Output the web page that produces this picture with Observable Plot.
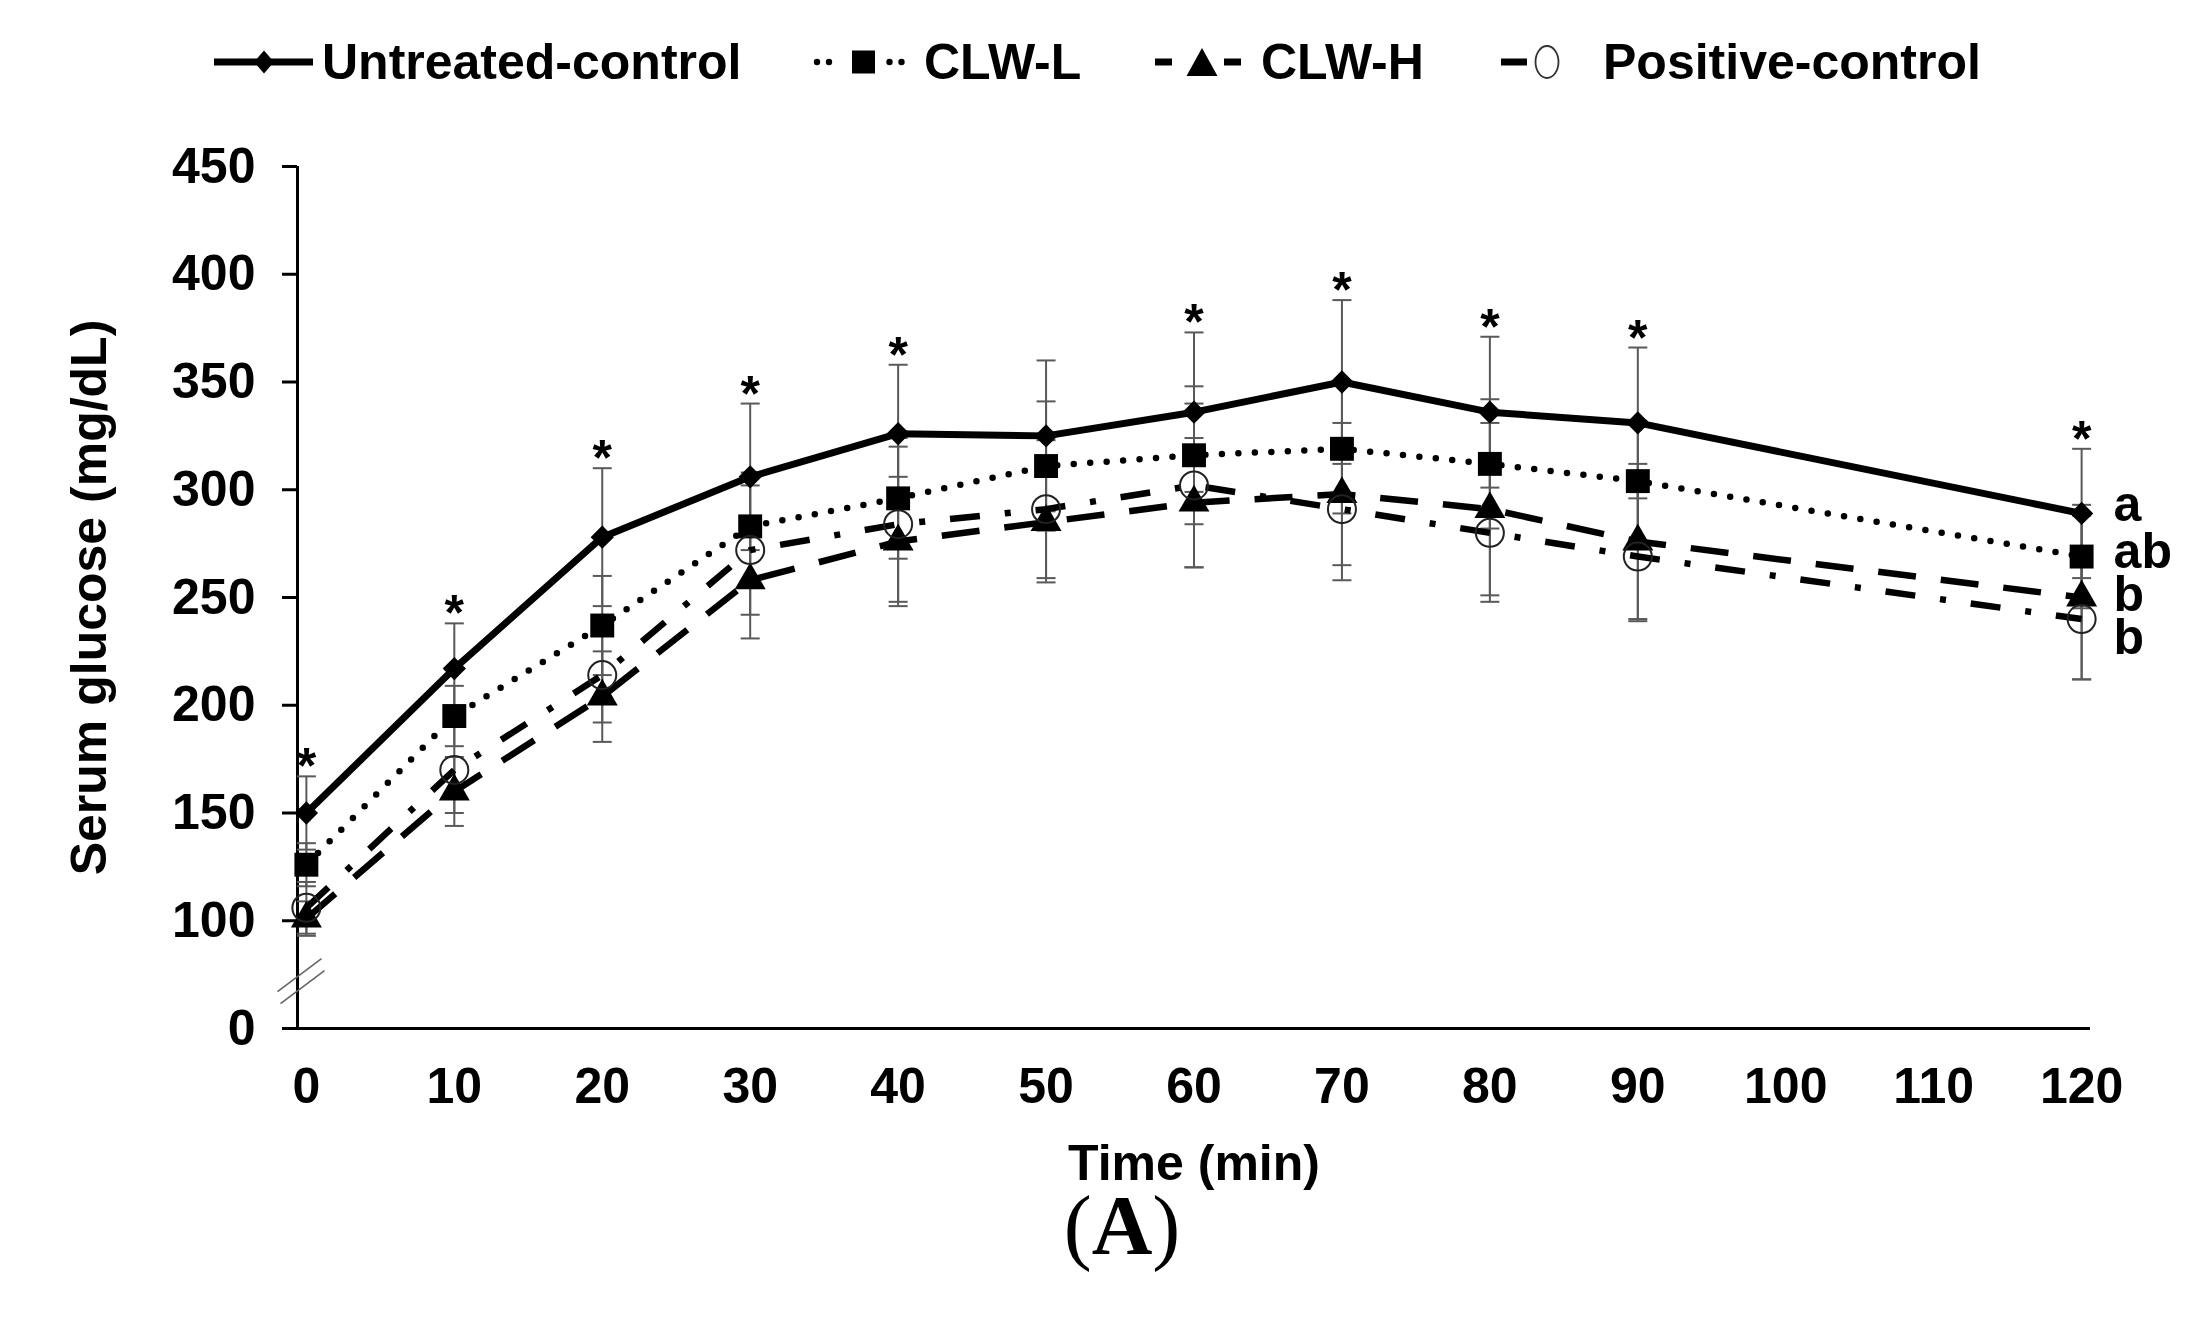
<!DOCTYPE html>
<html>
<head>
<meta charset="utf-8">
<script src="https://cdn.jsdelivr.net/npm/d3@7"></script>
<script src="https://cdn.jsdelivr.net/npm/@observablehq/plot@0.6"></script>
<style>
  html, body { margin: 0; padding: 0; background: #fff; }
  body { width: 2208px; height: 1344px; overflow: hidden; font-family: "Liberation Sans", Arial, sans-serif; color: #000; }
  #legend { position: relative; height: 124px; }
  .sample { position: absolute; top: 42px; overflow: visible; }
  .ltext { position: absolute; top: 37px; font-size: 50px; font-weight: bold; line-height: 50px; white-space: nowrap; }
  #chart svg { display: block; }
  #caption { height: 100px; line-height: 44px; text-align: center; padding-left: 36px;
             font-family: "Liberation Serif", "Times New Roman", serif; font-size: 84px; }
</style>
</head>
<body>
<div id="legend"></div>
<div id="chart"></div>
<div id="caption">(<b>A</b>)</div>
<script>
// ---------------- data ----------------
const times = [0, 10, 20, 30, 40, 50, 60, 70, 80, 90, 120];
const seriesNames = ["Untreated-control", "CLW-L", "CLW-H", "Positive-control"];

const untreated   = [150, 217, 278, 306, 326, 325, 336, 350, 336, 331, 289];
const untreatedSD = [17, 21, 32, 34, 32, 35, 37, 38, 35, 35, 30];
const clwL        = [126, 195, 237, 283, 296, 311, 316, 319, 312, 304, 269];
const clwLSD      = [10, 14, 23, 25, 28, 30, 32, 30, 30, 28, 24];
const clwH        = [101, 160, 204, 258, 276, 285, 294, 298, 291, 276, 250];
const clwHSD      = [8, 16, 21, 27, 30, 28, 30, 33, 40, 36, 38];
const positive    = [106, 170, 214, 272, 284, 291, 302, 291, 280, 269, 240];
const positiveSD  = [12, 20, 22, 30, 36, 32, 38, 33, 32, 30, 28];

const xTicks = [0, 10, 20, 30, 40, 50, 60, 70, 80, 90, 100, 110, 120];
// broken y axis: the "0" label sits one tick step below 100
const yTickLabels = ["0", "100", "150", "200", "250", "300", "350", "400", "450"];
const yTickValues = [50, 100, 150, 200, 250, 300, 350, 400, 450];
const asteriskTimes = [0, 10, 20, 30, 40, 60, 70, 80, 90, 120];
const sigLetters = ["a", "ab", "b", "b"];

// ---------------- styles ----------------
const styles = [
  {symbol: "diamond2", r: 10.5, fill: "black", stroke: "none", sw: 0, dash: null, cap: "round", width: 7},
  {symbol: "square", r: 13.5, fill: "black", stroke: "none", sw: 0, dash: "0 16.5", cap: "round", width: 6.5},
  {symbol: "triangle", r: 11.5, fill: "black", stroke: "none", sw: 0, dash: "38 25", cap: "butt", width: 6.5},
  {symbol: "circle", r: 14, fill: "none", stroke: "#222", sw: 2, dash: "30 25 6 25", cap: "butt", width: 6.5}
];
const letterDy = [-8, -5, -3, 19];

const seriesValues = [untreated, clwL, clwH, positive];
const seriesSD = [untreatedSD, clwLSD, clwHSD, positiveSD];
const rowsBy = seriesNames.map((name, k) =>
  times.map((t, i) => ({series: name, t, v: seriesValues[k][i], sd: seriesSD[k][i]})));

// ---------------- legend ----------------
const legend = document.getElementById("legend");
const sampleX = [214, 814, 1152, 1501];
const textX = [322, 924, 1261, 1603];
const ns = "http://www.w3.org/2000/svg";
const sampleSvgs = [
  `<line x1="0" y1="20" x2="99" y2="20" stroke="#000" stroke-width="7"/>
   <polygon points="50,8.5 60,20 50,31.5 40,20" fill="#000"/>`,
  `<circle cx="3" cy="20" r="3.2" fill="#000"/><circle cx="15" cy="20" r="3.2" fill="#000"/>
   <circle cx="75.5" cy="20" r="3.2" fill="#000"/><circle cx="87.5" cy="20" r="3.2" fill="#000"/>
   <rect x="38" y="8.5" width="23" height="23" fill="#000"/>`,
  `<line x1="3" y1="20" x2="20" y2="20" stroke="#000" stroke-width="7"/>
   <line x1="72" y1="20" x2="89" y2="20" stroke="#000" stroke-width="7"/>
   <polygon points="50,6 65.5,34 34.5,34" fill="#000"/>`,
  `<line x1="0" y1="20" x2="26" y2="20" stroke="#000" stroke-width="7"/>
   <ellipse cx="46" cy="20" rx="11.5" ry="16" fill="none" stroke="#333" stroke-width="1.8"/>`
];
seriesNames.forEach((name, k) => {
  const s = document.createElementNS(ns, "svg");
  s.setAttribute("class", "sample");
  s.setAttribute("width", 100); s.setAttribute("height", 40);
  s.style.left = sampleX[k] + "px";
  s.innerHTML = sampleSvgs[k];
  legend.appendChild(s);
  const t = document.createElement("div");
  t.className = "ltext";
  t.style.left = textX[k] + "px";
  t.textContent = name;
  legend.appendChild(t);
});

// ---------------- chart ----------------
const W = 2208, H = 1080;
const xDomain = [-0.6, 120.6];
const yDomain = [yTickValues[0], yTickValues[yTickValues.length - 1]];

const capSymbol = {
  draw(ctx, size) {
    const r = Math.sqrt(size / Math.PI);
    ctx.moveTo(-r, 0); ctx.lineTo(r, 0);
  }
};

const axisBreak = (index, scales, values, dims) => {
  const g = d3.create("svg:g").attr("stroke", "#666").attr("stroke-width", 1.6);
  const cx = dims.marginLeft;
  const cy = (scales.y(yTickValues[0]) + scales.y(yTickValues[1])) / 2 + 7;
  [[2.5, -6], [5.5, 6]].forEach(([ox, oy]) => {
    g.append("line")
      .attr("x1", cx + ox - 22).attr("y1", cy + oy + 16.5)
      .attr("x2", cx + ox + 22).attr("y2", cy + oy - 16.5);
  });
  return g.node();
};

const marks = [
  Plot.ruleY([yDomain[0]], {stroke: "#000", strokeWidth: 3}),
  Plot.ruleX([xDomain[0]], {y1: yDomain[0], y2: yDomain[1], stroke: "#000", strokeWidth: 3}),
  Plot.axisY({ticks: yTickValues, tickFormat: d => yTickLabels[yTickValues.indexOf(d)],
              tickSize: 15, tickPadding: 27, fontSize: 50, fontWeight: "bold",
              label: null, stroke: "#000", strokeWidth: 3, fill: "#000"}),
  Plot.axisX({ticks: xTicks, tickSize: 0, tickPadding: 39, fontSize: 50, fontWeight: "bold",
              label: null, fill: "#000"}),
  axisBreak
];

// error bars
rowsBy.forEach(rows => {
  marks.push(
    Plot.ruleX(rows, {x: "t", y1: d => d.v - d.sd, y2: d => d.v + d.sd, stroke: "#595959", strokeWidth: 2}),
    Plot.dot(rows, {x: "t", y: d => d.v + d.sd, symbol: capSymbol, r: 9.5, fill: "none", stroke: "#595959", strokeWidth: 2}),
    Plot.dot(rows, {x: "t", y: d => d.v - d.sd, symbol: capSymbol, r: 9.5, fill: "none", stroke: "#595959", strokeWidth: 2})
  );
});
// lines
rowsBy.forEach((rows, k) => {
  const s = styles[k];
  marks.push(Plot.line(rows, {x: "t", y: "v", stroke: "#000", strokeWidth: s.width,
    strokeDasharray: s.dash, strokeLinecap: s.cap, strokeLinejoin: "round"}));
});
// markers
rowsBy.forEach((rows, k) => {
  const s = styles[k];
  marks.push(Plot.dot(rows, {x: "t", y: "v", symbol: s.symbol, r: s.r, fill: s.fill,
    stroke: s.stroke, strokeWidth: s.sw}));
});
// asterisks above the untreated-control error bars
const asteriskRows = rowsBy[0].filter(d => asteriskTimes.includes(d.t));
marks.push(Plot.text(asteriskRows, {x: "t", y: d => d.v + d.sd, text: () => "*",
  fontSize: 50, fontWeight: "bold", dy: -9, fill: "#000"}));
// significance letters at the last time point
sigLetters.forEach((letter, k) => {
  const last = rowsBy[k][rowsBy[k].length - 1];
  marks.push(Plot.text([last], {x: "t", y: "v", text: () => letter, textAnchor: "start",
    dx: 32, dy: letterDy[k], fontSize: 50, fontWeight: "bold", fill: "#000"}));
});
// axis titles
marks.push(Plot.text(["Time (min)"], {frameAnchor: "bottom", text: d => d, dy: 151,
  textAnchor: "middle", fontSize: 50, fontWeight: "bold", fill: "#000"}));
marks.push(Plot.text(["Serum glucose (mg/dL)"], {frameAnchor: "left", text: d => d, rotate: -90,
  textAnchor: "middle", lineAnchor: "middle", dx: -208, fontSize: 50, fontWeight: "bold", fill: "#000"}));

const chart = Plot.plot({
  width: W, height: H,
  marginTop: 42, marginBottom: 176, marginLeft: 297, marginRight: 118,
  style: {fontFamily: "'Liberation Sans', Arial, sans-serif", background: "#fff", color: "#000", overflow: "visible"},
  x: {domain: xDomain},
  y: {domain: yDomain},
  marks
});
document.getElementById("chart").appendChild(chart);
</script>
</body>
</html>
